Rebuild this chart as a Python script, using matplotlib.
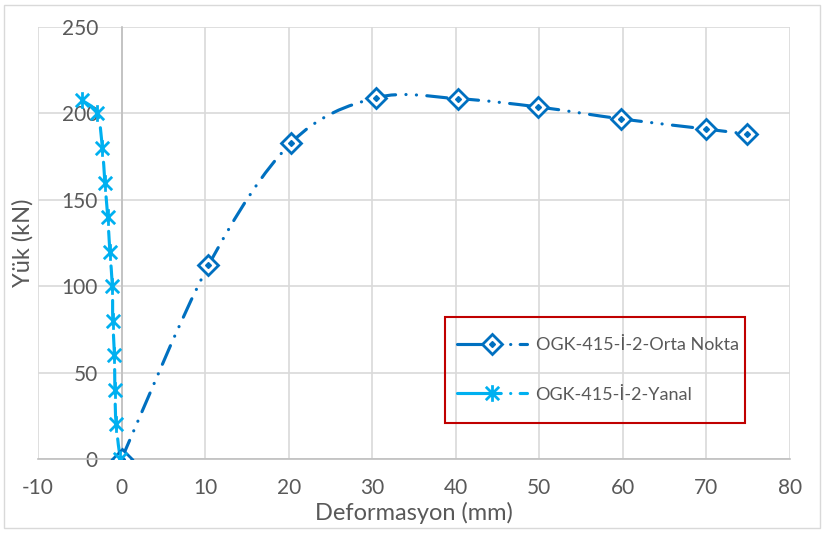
import matplotlib
matplotlib.use('Agg')
import matplotlib.pyplot as plt
from matplotlib.path import Path
from matplotlib.patches import PathPatch, Rectangle
from matplotlib.lines import Line2D

# veriler
orta_x = [0, 10.4, 20.3, 30.4, 40.3, 49.9, 59.8, 69.9, 74.9]
orta_y = [0, 112, 183, 209, 208.5, 203.7, 196.8, 191, 188]

yanal_x = [-0.15, -0.65, -0.8, -0.85, -1.05, -1.1, -1.4, -1.65, -2.0, -2.3, -2.9, -4.7]
yanal_y = [0, 20, 40, 60, 80, 100, 120, 140, 160, 180, 200, 207.5]

x_ticks = list(range(-10, 81, 10))
y_ticks = list(range(0, 251, 50))

lbl_orta = 'OGK-415-İ-2-Orta Nokta'
lbl_yanal = 'OGK-415-İ-2-Yanal'

c_orta = '#0070C0'
c_yanal = '#00B0F0'
gri = '#595959'
dash = (6.5, 3.3, 0.05, 3.3, 0.05, 3.3)

plt.rcParams['font.family'] = ['Lato', 'DejaVu Sans']
plt.rcParams['axes.unicode_minus'] = False

fig = plt.figure(figsize=(8.24, 5.33), dpi=100)
ax = fig.add_axes([38/824, 1-459/533, (790-38)/824, (459-27)/533])


def yumusak_cizgi(ax, xs, ys, renk, lw=2.25):
    # Excel tarzi yumusatilmis cizgi, her parca icin kesik desen bastan
    n = len(xs)
    for i in range(n-1):
        x0, y0 = xs[max(i-1, 0)], ys[max(i-1, 0)]
        x1, y1 = xs[i], ys[i]
        x2, y2 = xs[i+1], ys[i+1]
        x3, y3 = xs[min(i+2, n-1)], ys[min(i+2, n-1)]
        c1 = (x1 + (x2-x0)/6, y1 + (y2-y0)/6)
        c2 = (x2 - (x3-x1)/6, y2 - (y3-y1)/6)
        p = Path([(x1, y1), c1, c2, (x2, y2)],
                 [Path.MOVETO, Path.CURVE4, Path.CURVE4, Path.CURVE4])
        ax.add_patch(PathPatch(p, fill=False, edgecolor=renk, lw=lw,
                               linestyle=(0, dash), capstyle='round',
                               joinstyle='round', zorder=3))


yumusak_cizgi(ax, orta_x, orta_y, c_orta)
yumusak_cizgi(ax, yanal_x, yanal_y, c_yanal)

yildiz = Path([(-1, -1), (1, 1), (-1, 1), (1, -1), (0, -1.25), (0, 1.25)],
              [Path.MOVETO, Path.LINETO, Path.MOVETO, Path.LINETO,
               Path.MOVETO, Path.LINETO])

ax.plot(orta_x, orta_y, ls='none', marker='D', ms=10, mfc='white',
        mec=c_orta, mew=2, zorder=4)
ax.plot(orta_x, orta_y, ls='none', marker='D', ms=3, color=c_orta, zorder=5)
ax.plot(yanal_x, yanal_y, ls='none', marker=yildiz, ms=12, mec=c_yanal,
        mew=2, zorder=6)

ax.set_xlim(-10, 80)
ax.set_ylim(0, 250)
ax.set_xticks(x_ticks)
ax.set_yticks(y_ticks)
ax.grid(True, color='#D9D9D9', lw=1.2)
ax.set_axisbelow(True)
for s in ['top', 'right']:
    ax.spines[s].set_visible(False)
ax.spines['left'].set_position(('data', 0))
ax.spines['left'].set_color('#BFBFBF')
ax.spines['bottom'].set_color('#BFBFBF')
ax.spines['left'].set_linewidth(1.2)
ax.spines['bottom'].set_linewidth(1.2)
ax.tick_params(length=0, labelsize=15, colors=gri)
ax.tick_params(axis='y', pad=17)
ax.tick_params(axis='x', pad=14)

ax.set_xlabel('Deformasyon (mm)', fontsize=17, color=gri)
ax.set_ylabel('Yük (kN)', fontsize=17, color=gri)
ax.xaxis.set_label_coords(0.5, -0.1)
ax.yaxis.set_label_coords(-0.006, 0.5)

# lejant (cerceve ayri ciziliyor)
h1 = Line2D([], [], color=c_orta, lw=2.25, marker='D', ms=10, mfc='white',
            mec=c_orta, mew=2, dashes=(14, 3, 0.05, 3, 5, 1),
            dash_capstyle='round')
h1b = Line2D([], [], ls='none', marker='D', ms=3, color=c_orta)
h2 = Line2D([], [], color=c_yanal, lw=2.25, marker=yildiz, ms=12,
            mec=c_yanal, mew=2, dashes=(14, 3, 0.05, 3, 5, 1),
            dash_capstyle='round')
leg = fig.legend([(h1, h1b), h2], [lbl_orta, lbl_yanal],
                 loc='center left', bbox_to_anchor=(457/824, 1-370/533),
                 bbox_transform=fig.transFigure, borderaxespad=0,
                 borderpad=0, frameon=False, fontsize=13, labelcolor=gri,
                 handlelength=3.9, handletextpad=0.45, labelspacing=1.85)

fig.patches.append(Rectangle((445/824, 1-423/533), 300/824, 106/533,
                             transform=fig.transFigure, fill=False,
                             ec='#C00000', lw=1.5))
fig.patches.append(Rectangle((4/824, 5/533), 816/824, 523/533,
                             transform=fig.transFigure, fill=False,
                             ec='#D9D9D9', lw=1))

fig.savefig('out.png', dpi=100)
